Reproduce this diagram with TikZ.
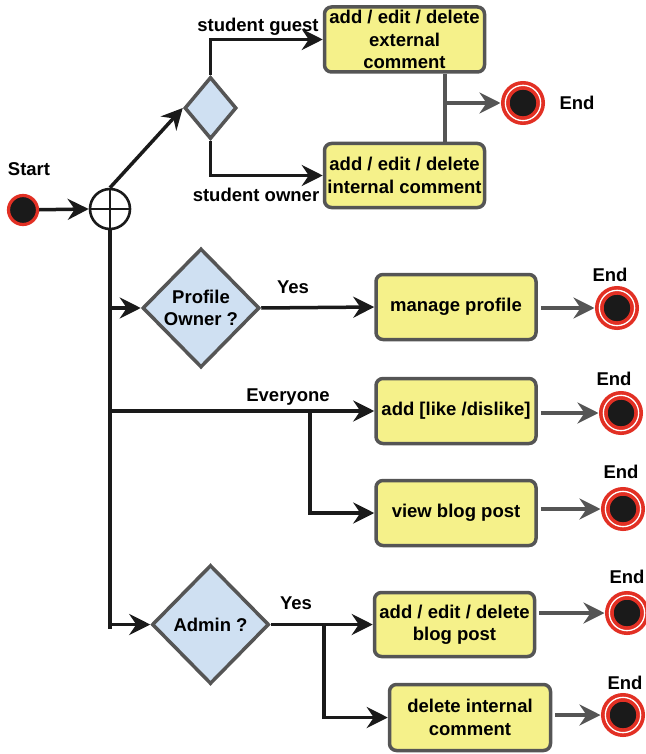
\documentclass[tikz,border=0pt]{standalone}
\usepackage{fontspec}
\setmainfont{Liberation Sans}
\usetikzlibrary{shapes.geometric,arrows.meta}
\definecolor{boxyellow}{RGB}{245,241,138}
\definecolor{edgegrey}{RGB}{85,85,85}
\definecolor{decblue}{RGB}{207,224,242}
\definecolor{endred}{RGB}{226,48,36}
\definecolor{dotblack}{RGB}{26,26,26}
\newcommand{\flowfont}{\fontsize{18.5}{22.5}\selectfont\bfseries}
\tikzset{
  action/.style={draw=edgegrey, fill=boxyellow, line width=3.5pt, rounded corners=7pt,
    minimum width=160pt, minimum height=65pt, inner sep=0pt, align=center, font=\flowfont},
  decision/.style={diamond, draw=edgegrey, fill=decblue, line width=3.5pt, inner sep=0pt,
    minimum width=117pt, minimum height=119pt, align=center, font=\flowfont},
  initial/.style={circle, draw=endred, fill=dotblack, line width=3.2pt, minimum size=29pt, inner sep=0pt},
  final/.style={circle, draw=endred, double=white, double distance=1.3pt, line width=3.7pt,
    fill=dotblack, minimum size=35.3pt, inner sep=0pt},
  flow/.style={draw=dotblack, line width=3.5pt, -{Stealth[length=21pt,width=21pt,inset=7pt]}},
  endflow/.style={draw=edgegrey, line width=3.5pt, -{Stealth[length=21pt,width=21pt,inset=7pt]},
    shorten <=3pt, shorten >=3pt},
  tag/.style={font=\flowfont, inner sep=0pt}
}

\begin{document}
\begin{tikzpicture}[x=1pt, y=-1pt]
  \useasboundingbox (0,0) rectangle (645,754);

  % start and fork
  \node[initial] (start) at (23,210) {};
  \node[tag] (starttag) at (29,169) {Start};
  \node[circle, draw=dotblack, line width=2.6pt, minimum size=40pt, inner sep=0pt] (fork) at (110,209) {};
  \draw[line width=2.6pt, dotblack] (fork.west) -- (fork.east);
  \draw[line width=2.6pt, dotblack] (fork.north) -- (fork.south);
  \coordinate (busend) at (110,629);
  \draw[line width=3.5pt, dotblack] (fork.south) -- (busend);
  \draw[flow] (start) -- (fork.west);

  % comments
  \node[decision, minimum width=52pt, minimum height=62pt] (guestq) at (210.5,108) {};
  \node[action] (ext) at (404.5,39.5) {add / edit / delete\\external\\comment};
  \node[action, minimum height=64pt] (intc) at (404.5,175.5) {add / edit / delete\\internal comment};
  \draw[flow] (fork.north) -- (guestq.west);
  \draw[flow] (guestq.north) |- (ext.west);
  \draw[flow] (guestq.south) |- (intc.west);
  \node[tag] (guesttag) at (258,27) {student guest};
  \node[tag] (ownertag) at (256,195) {student owner};
  \coordinate (merge) at (445,103);
  \draw[line width=3.5pt, edgegrey] (merge |- ext.south) -- (merge |- intc.north);
  \node[final] (endA) at (523,103) {};
  \node[tag] (endAtag) at (577,103) {End};
  \draw[endflow, shorten <=0pt] (merge) -- (endA);

  % profile
  \node[decision] (ownq) at (201,308) {Profile\\Owner ?};
  \node[action] (profile) at (456,307) {manage profile};
  \node[final] (endB) at (617,308) {};
  \node[tag] (endBtag) at (610,275) {End};
  \draw[flow] (fork.south |- ownq.west) -- (ownq.west);
  \draw[flow] (ownq.east) -- (profile.west);
  \node[tag] (yesA) at (293,287) {Yes};
  \draw[endflow] (profile.east |- endB.west) -- (endB.west);

  % everyone
  \node[action] (like) at (456,411) {add [like /dislike]};
  \node[action] (view) at (456,513) {view blog post};
  \node[final] (endC) at (621,413) {};
  \node[tag] (endCtag) at (614,379) {End};
  \node[final] (endD) at (623,509) {};
  \node[tag] (endDtag) at (621,472) {End};
  \draw[flow] (fork.south |- like.west) -- (like.west);
  \node[tag] (alltag) at (288,397) {Everyone};
  \coordinate (fanA) at (310,411);
  \draw[flow] (fanA) |- (view.west);
  \draw[endflow] (like.east |- endC.west) -- (endC.west);
  \draw[endflow] (view.east |- endD.west) -- (endD.west);

  % admin
  \node[decision] (adminq) at (210.5,624.5) {Admin ?};
  \node[action, minimum height=64pt] (blog) at (454.5,624.5) {add / edit / delete\\blog post};
  \node[action, minimum width=161pt, minimum height=66pt] (delc) at (470,717.5) {delete internal\\comment};
  \node[final] (endE) at (627,613) {};
  \node[tag] (endEtag) at (627,577) {End};
  \node[final] (endF) at (623,715) {};
  \node[tag] (endFtag) at (625,683) {End};
  \draw[flow] (busend |- adminq.west) -- (adminq.west);
  \draw[flow] (adminq.east) -- (blog.west);
  \node[tag] (yesB) at (296,603) {Yes};
  \coordinate (fanB) at (324,624.5);
  \draw[flow] (fanB) |- (delc.west);
  \draw[endflow] (blog.east |- endE.west) -- (endE.west);
  \draw[endflow] (delc.east |- endF.west) -- (endF.west);
\end{tikzpicture}
\end{document}
